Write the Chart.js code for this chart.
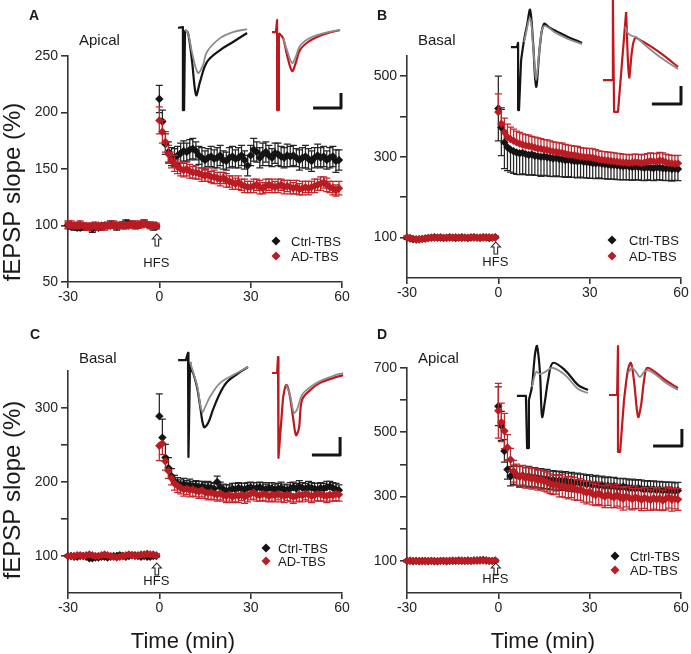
<!DOCTYPE html>
<html>
<head>
<meta charset="utf-8">
<script src="https://cdn.jsdelivr.net/npm/chart.js@4.4.1/dist/chart.umd.min.js"></script>
<style>
  html, body { margin: 0; padding: 0; background: #fff; }
  #fig { position: relative; width: 691px; height: 654px; overflow: hidden; }
  canvas { position: absolute; }
</style>
</head>
<body>
<div id="fig">
  <canvas id="chartA" width="360" height="320" style="left:0;top:0"></canvas>
  <canvas id="chartB" width="346" height="320" style="left:345px;top:0"></canvas>
  <canvas id="chartC" width="360" height="334" style="left:0;top:320px"></canvas>
  <canvas id="chartD" width="346" height="334" style="left:345px;top:320px"></canvas>
  <canvas id="insetA" width="175" height="100" style="left:170px;top:15px"></canvas>
  <canvas id="insetB" width="181" height="115" style="left:510px;top:0"></canvas>
  <canvas id="insetC" width="175" height="125" style="left:170px;top:340px"></canvas>
  <canvas id="insetD" width="181" height="120" style="left:510px;top:335px"></canvas>
</div>
<script>
// time axis (min): 30 baseline samples, then 60 after HFS
let times = [];
for (let t = -30; t < 60; t++) times.push(t);

// ---- panel A (apical) ----
let aCtrl = [100,99,99,98,98,99,99,98,97,98,98,99,100,100,101,100,99,100,101,102,102,101,100,100,101,102,101,100,99,99,
  212,192,172,165,161,160,162,164,166,165,167,168,166,162,160,158,160,161,159,160,
  162,158,157,160,161,159,160,162,158,153,162,167,165,160,163,165,162,160,164,163,
  161,160,162,161,162,160,158,160,161,159,157,160,162,160,161,158,160,161,157,158];
let aCtrlErr = [3,2,3,2,2,3,2,2,3,2,2,3,2,2,3,2,3,2,2,3,2,2,3,2,2,3,2,2,3,2,
  12,10,9,9,8,8,8,9,9,8,9,9,8,8,9,8,8,9,8,9,9,8,8,9,9,8,9,9,8,9,
  9,10,9,9,10,9,9,8,9,10,9,9,10,9,9,8,9,9,10,9,9,9,10,9,9,8,9,9,10,9];
let aAd = [101,101,100,100,101,100,99,99,100,100,99,100,99,100,100,101,100,100,100,100,100,101,101,100,101,102,101,100,100,100,
  193,183,174,163,158,155,152,150,149,150,148,147,147,146,145,144,145,143,143,142,
  141,142,140,139,138,137,138,136,135,134,134,135,136,134,133,135,136,135,134,135,
  136,134,135,134,133,134,132,133,134,133,134,135,136,137,138,136,134,133,131,133];
let aAdErr = [3,3,2,3,3,2,3,3,2,3,3,2,3,3,2,3,3,2,3,3,2,3,3,2,3,3,2,3,3,2,
  12,10,9,8,7,7,6,6,6,6,6,5,6,5,6,5,6,5,6,5,6,5,6,5,6,5,6,5,6,5,
  5,6,5,6,5,6,5,6,5,6,5,6,5,6,5,6,5,6,5,6,5,6,5,6,5,6,5,6,5,6];

// ---- panel B (basal) ----
let bCtrl = [100,98,96,95,96,97,98,99,100,101,100,100,99,100,101,100,99,100,101,100,99,100,101,100,100,101,100,99,100,101,
  420,373,336,324,318,314,311,309,310,307,305,306,303,302,300,301,299,298,296,297,
  295,294,292,293,291,290,289,290,288,287,286,285,284,285,283,282,281,280,280,279,
  278,277,278,276,275,276,275,274,273,274,273,272,274,273,272,271,272,270,271,270];
let bCtrlErr = [4,3,4,3,4,3,4,3,4,3,4,3,4,3,4,3,4,3,4,3,4,3,4,3,4,3,4,3,4,3,
  80,70,65,58,56,55,54,53,52,51,50,50,49,48,48,47,46,46,45,44,
  44,43,43,42,42,41,41,40,40,39,39,38,38,37,37,36,36,35,35,35,
  34,34,34,33,33,33,32,32,32,31,31,31,31,30,30,30,30,30,29,29];
let bCtrlErrUp = [4,3,4,3,4,3,4,3,4,3,4,3,4,3,4,3,4,3,4,3,4,3,4,3,4,3,4,3,4,3, 80,45,30];
let bAd = [101,99,97,96,96,97,98,99,100,100,100,101,100,99,100,100,101,100,99,100,100,101,100,100,99,100,101,101,100,100,
  411,382,361,349,344,340,336,333,330,328,327,325,323,321,320,318,317,315,313,312,
  311,310,308,306,305,304,303,301,300,299,299,298,296,294,293,292,291,290,289,288,
  287,286,286,285,286,287,286,285,286,288,290,289,288,291,290,287,285,284,283,284];
let bAdErr = [3,4,3,4,3,4,3,4,3,4,3,4,3,4,3,4,3,4,3,4,3,4,3,4,3,4,3,4,3,4,
  45,40,35,32,30,29,28,28,27,27,27,26,26,26,25,25,25,25,24,24,
  24,24,23,23,23,23,23,22,22,22,22,22,22,21,21,21,21,21,21,21,
  21,20,20,20,20,20,20,20,20,20,20,20,20,20,20,20,20,20,20,20];

// ---- panel C (basal) ----
let cCtrl = [100,100,99,99,100,100,99,97,97,98,98,99,99,98,99,100,100,101,100,99,100,101,101,100,99,100,99,99,100,100,
  289,260,233,219,208,201,198,196,197,195,196,194,195,193,194,192,193,192,191,200,
  193,190,188,189,191,190,192,191,190,192,193,191,192,193,191,190,192,191,190,191,
  192,190,189,191,193,191,194,192,191,193,192,191,190,192,191,193,194,192,190,189];
let cCtrlErr = [2,2,3,2,2,3,2,2,3,2,2,3,2,2,3,2,2,3,2,2,3,2,2,3,2,2,3,2,2,3,
  30,25,18,14,10,8,8,7,8,7,8,7,7,8,7,7,8,7,7,8,
  7,7,8,7,7,8,7,7,8,7,7,8,7,7,8,7,7,8,7,7,
  8,7,7,8,7,7,8,7,7,8,7,7,8,7,7,8,7,7,8,7];
let cAd = [100,100,100,101,101,100,101,102,101,100,100,101,102,101,100,99,98,99,100,101,102,101,100,101,102,102,103,102,102,101,
  249,252,228,215,205,198,195,192,190,191,189,190,188,187,189,186,185,186,184,183,
  185,182,181,183,180,182,181,183,180,182,184,186,183,182,184,183,181,183,182,184,
  182,181,183,182,180,181,183,182,184,183,181,182,184,183,182,181,183,182,184,183];
let cAdErr = [2,3,2,3,2,3,2,3,2,3,2,3,2,3,2,3,2,3,2,3,2,3,2,3,2,3,2,3,2,3,
  20,15,12,10,9,9,9,8,9,8,9,9,8,9,9,8,9,9,8,9,
  9,8,9,9,8,9,9,8,9,9,8,9,9,8,9,9,8,9,9,8,
  9,9,8,9,9,8,9,9,8,9,9,8,9,9,8,9,9,8,9,9];

// ---- panel D (apical) ----
let dCtrl = [100,100,99,100,99,100,100,99,100,99,99,100,100,99,100,100,100,101,100,100,101,100,101,101,102,103,101,100,100,101,
  581,520,442,384,363,368,365,362,366,360,363,358,360,356,357,353,355,350,352,348,
  350,347,349,345,346,343,345,341,342,338,340,336,338,334,336,332,334,331,333,330,
  329,331,328,326,327,325,327,324,322,324,321,323,320,322,319,321,318,320,317,319];
let dCtrlErr = [3,3,4,3,3,4,3,3,4,3,3,4,3,3,4,3,3,4,3,3,4,3,3,4,3,3,4,3,3,4,
  60,45,35,30,30,30,30,31,30,30,31,30,30,29,30,29,30,29,29,30,
  29,28,29,28,29,28,28,29,28,28,28,27,28,27,28,27,27,28,27,27,
  27,26,27,26,27,26,26,27,26,26,26,26,26,25,26,25,26,25,26,25];
let dAd = [100,101,100,100,100,99,99,100,100,100,99,100,100,100,100,101,100,100,101,100,100,100,101,101,101,101,101,100,100,100,
  567,531,504,453,415,379,368,362,365,358,360,355,357,351,353,348,345,340,336,338,
  332,334,329,327,330,325,320,322,316,312,315,308,305,310,303,300,306,301,298,304,
  297,293,300,296,292,298,294,290,296,292,289,295,291,294,288,293,297,290,294,291];
let dAdErr = [3,4,3,4,3,4,3,4,3,4,3,4,3,4,3,4,3,4,3,4,3,4,3,4,3,4,3,4,3,4,
  85,60,55,40,35,34,33,33,32,32,32,32,31,31,31,31,31,31,30,30,
  33,35,32,34,33,35,32,34,33,35,32,34,33,35,32,34,33,35,32,34,
  33,35,32,34,33,35,32,34,33,35,32,34,33,35,32,34,33,35,32,34];

// ---- inset traces: [ms, mV] ----
let aCtrlTrace = [[2.7,-0.43],[4.3,-0.40],[4.3,-3.17],[4.7,-3.17],[5.0,-0.50],[6.0,-0.60],[7.3,-1.50],[8.7,-2.67],[10.0,-2.23],[12.3,-1.57],[16.7,-1.17],[21.0,-0.90],[25.7,-0.60]];
let aCtrlBase = [[5.0,-0.50],[6.0,-0.60],[7.3,-1.23],[9.3,-1.93],[11.0,-1.67],[12.3,-1.23],[16.7,-0.77],[21.0,-0.57],[25.7,-0.47]];
let aAdTrace = [[34.0,-0.57],[35.3,-0.57],[35.7,-0.17],[35.7,-3.17],[36.0,-3.17],[36.3,-0.60],[37.7,-0.77],[39.0,-1.33],[40.7,-1.87],[42.0,-1.57],[43.3,-1.17],[46.0,-0.90],[49.0,-0.73],[52.7,-0.60],[56.7,-0.50]];
let aAdBase = [[37.7,-0.77],[39.0,-1.17],[40.7,-1.60],[42.0,-1.37],[43.3,-1.03],[46.0,-0.80],[49.0,-0.67],[52.7,-0.57],[56.7,-0.50]];
let aScaleBar = [[47.7,-3.10],[57.0,-3.10],[57.0,-2.60]];

let bCtrlTrace = [[0.3,-1.57],[2.3,-1.57],[2.7,-1.43],[2.7,-3.67],[3.0,-3.67],[3.7,-2.00],[4.7,-1.33],[5.7,-0.83],[6.7,-0.33],[7.7,-1.43],[8.7,-2.90],[10.0,-1.50],[11.3,-0.80],[13.3,-0.93],[15.3,-1.03],[19.3,-1.23],[24.0,-1.43]];
let bCtrlBase = [[4.7,-1.40],[6.7,-0.60],[7.7,-1.50],[8.7,-2.67],[10.0,-1.50],[11.3,-0.87],[15.3,-1.10],[19.3,-1.30],[24.0,-1.47]];
let bAdTrace = [[31.0,-2.67],[34.0,-2.67],[34.3,0.00],[34.7,-3.73],[36.0,-3.73],[38.7,-0.40],[39.7,-2.57],[40.7,-1.67],[41.7,-1.27],[43.3,-1.33],[46.7,-1.53],[51.0,-1.83],[56.0,-2.23]];
let bAdBase = [[38.3,-0.89],[39.3,-1.10],[40.7,-1.20],[42.0,-1.23],[45.0,-1.50],[50.0,-1.90],[56.0,-2.30]];
let bScaleBar = [[47.3,-3.47],[57.0,-3.47],[57.0,-2.87]];

let cCtrlTrace = [[2.7,-0.67],[5.3,-0.67],[6.0,-0.43],[6.0,-3.90],[6.3,-3.90],[6.7,-0.73],[7.0,-1.00],[7.7,-1.10],[9.0,-1.57],[10.0,-2.17],[11.3,-2.90],[12.7,-2.77],[14.3,-2.33],[16.7,-1.77],[19.0,-1.40],[23.3,-1.07],[26.0,-0.90]];
let cCtrlBase = [[6.7,-0.73],[7.7,-1.07],[9.0,-1.50],[10.7,-2.40],[12.0,-2.17],[13.3,-1.90],[16.7,-1.43],[21.0,-1.17],[26.0,-0.90]];
let cAdTrace = [[34.0,-1.10],[35.7,-1.10],[36.0,-0.57],[36.0,-3.93],[36.3,-3.93],[37.7,-1.90],[38.7,-1.50],[39.7,-1.73],[41.0,-2.57],[42.0,-3.17],[43.0,-2.93],[44.0,-2.00],[46.7,-1.67],[50.0,-1.43],[54.3,-1.27],[57.7,-1.17]];
let cAdBase = [[38.7,-1.50],[40.0,-1.83],[41.3,-2.43],[42.3,-2.33],[44.0,-1.83],[46.7,-1.57],[50.0,-1.37],[54.3,-1.20],[57.7,-1.10]];
let cScaleBar = [[47.3,-3.83],[56.7,-3.83],[56.7,-3.23]];

let dCtrlTrace = [[2.3,-2.03],[5.3,-2.03],[5.7,-3.77],[6.0,-3.77],[6.3,-2.17],[7.3,-1.73],[8.3,-0.67],[9.0,-0.37],[10.0,-1.27],[10.7,-2.73],[11.7,-2.17],[12.7,-1.50],[14.3,-0.93],[18.3,-1.17],[22.7,-1.67],[26.0,-1.83]];
let dCtrlBase = [[7.3,-1.73],[8.7,-1.23],[10.0,-1.30],[11.7,-1.23],[14.3,-1.10],[18.3,-1.33],[22.7,-1.80],[26.0,-1.93]];
let dAdTrace = [[33.0,-2.00],[35.7,-2.00],[36.0,-0.37],[36.0,-3.90],[36.7,-3.90],[38.0,-2.17],[39.3,-1.17],[40.3,-0.93],[41.3,-1.50],[42.7,-2.73],[43.7,-2.33],[44.7,-1.50],[45.7,-1.10],[48.3,-1.23],[51.7,-1.50],[56.0,-1.77]];
let dAdBase = [[39.3,-1.27],[40.7,-1.10],[42.0,-1.23],[43.3,-1.40],[44.7,-1.23],[46.0,-1.17],[48.7,-1.33],[52.0,-1.60],[56.0,-1.83]];
let dScaleBar = [[47.7,-3.70],[57.3,-3.70],[57.3,-3.13]];

let xTicks = [-30, 0, 30, 60];
let seriesNames = ["Ctrl-TBS", "AD-TBS"];

const BLACK = "#141414";
const RED = "#b91c22";
const GRAY = "#8c8c8c";
const FONT = '"Liberation Sans", Arial, Helvetica, sans-serif';
Chart.defaults.font.family = FONT;

// error bars drawn right before each dataset's own points
const errorBars = {
  id: "errorBars",
  beforeDatasetDraw(chart, args) {
    let ds = chart.data.datasets[args.index];
    if (!ds.errUp && !ds.errDown) return;
    let ctx = chart.ctx;
    let xs = chart.scales.x, ys = chart.scales.y;
    ctx.save();
    ctx.strokeStyle = ds.barColor;
    ctx.lineWidth = 1.25;
    ds.data.forEach((p, i) => {
      let px = xs.getPixelForValue(p.x);
      let py = ys.getPixelForValue(p.y);
      [[ds.errUp, 1], [ds.errDown, -1]].forEach(([arr, sign]) => {
        if (!arr || !arr[i]) return;
        let ey = ys.getPixelForValue(p.y + sign * arr[i]);
        ctx.beginPath();
        ctx.moveTo(px, py);
        ctx.lineTo(px, ey);
        ctx.moveTo(px - 3.5, ey);
        ctx.lineTo(px + 3.5, ey);
        ctx.stroke();
      });
    });
    ctx.restore();
  }
};

function diamond(ctx, x, y, r, color) {
  ctx.fillStyle = color;
  ctx.beginPath();
  ctx.moveTo(x, y - r);
  ctx.lineTo(x + r, y);
  ctx.lineTo(x, y + r);
  ctx.lineTo(x - r, y);
  ctx.closePath();
  ctx.fill();
}

// texts, legend and HFS arrow
const panelText = {
  id: "panelText",
  afterDraw(chart, args, opts) {
    let ctx = chart.ctx;
    ctx.save();
    ctx.textBaseline = "middle";
    (opts.items || []).forEach(it => {
      ctx.save();
      ctx.font = it.font;
      ctx.fillStyle = "#1a1a1a";
      ctx.textAlign = it.align || "left";
      ctx.translate(it.x, it.y);
      if (it.rotate) ctx.rotate(-Math.PI / 2);
      ctx.fillText(it.text, 0, 0);
      ctx.restore();
    });
    // legend
    let lg = opts.legend;
    ctx.font = "13px " + FONT;
    ctx.textAlign = "left";
    [BLACK, RED].forEach((c, i) => {
      diamond(ctx, lg.mx, lg.ys[i], 4.5, c);
      ctx.fillStyle = "#1a1a1a";
      ctx.fillText(seriesNames[i], lg.tx, lg.ys[i] + 1);
    });
    // HFS arrow at t = 0
    let h = opts.hfs;
    let ax = chart.scales.x.getPixelForValue(0) - 2.5;
    let t = h.top, b = h.top + 12;
    ctx.beginPath();
    ctx.moveTo(ax, t);
    ctx.lineTo(ax + 4.5, t + 5);
    ctx.lineTo(ax + 1.8, t + 5);
    ctx.lineTo(ax + 1.8, b);
    ctx.lineTo(ax - 1.8, b);
    ctx.lineTo(ax - 1.8, t + 5);
    ctx.lineTo(ax - 4.5, t + 5);
    ctx.closePath();
    ctx.fillStyle = "#fff";
    ctx.fill();
    ctx.strokeStyle = "#222";
    ctx.lineWidth = 1.1;
    ctx.stroke();
    ctx.font = "13px " + FONT;
    ctx.textAlign = "center";
    ctx.fillStyle = "#1a1a1a";
    ctx.fillText("HFS", ax - 0.5, h.textY);
    ctx.restore();
  }
};

function axisLine() {
  return { display: true, color: "#333", width: 1.6 };
}

function makePanel(id, p) {
  let ctrlPts = times.map((t, i) => ({ x: t, y: p.ctrl[i] }));
  let adPts = times.map((t, i) => ({ x: t, y: p.ad[i] }));
  new Chart(document.getElementById(id), {
    type: "scatter",
    data: {
      datasets: [
        {
          label: seriesNames[0], data: ctrlPts, order: 2,
          errUp: p.ctrlUp, errDown: p.ctrlDown, barColor: "#262626",
          pointStyle: "rectRot", pointRadius: 4.2, pointBorderWidth: 0,
          backgroundColor: BLACK, borderColor: BLACK, clip: false
        },
        {
          label: seriesNames[1], data: adPts, order: 1,
          errUp: p.adUp, errDown: p.adDown, barColor: "#c2262c",
          pointStyle: "rectRot", pointRadius: 4.2, pointBorderWidth: 0,
          backgroundColor: RED, borderColor: RED, clip: false
        }
      ]
    },
    options: {
      responsive: false,
      animation: false,
      events: [],
      layout: { autoPadding: false, padding: { left: 0, top: p.top, right: p.right, bottom: 0 } },
      plugins: {
        legend: { display: false },
        tooltip: { enabled: false },
        panelText: { items: p.texts, legend: p.legend, hfs: p.hfs }
      },
      scales: {
        x: {
          type: "linear", position: "bottom", min: -30, max: 60,
          border: axisLine(),
          grid: { display: true, drawOnChartArea: false, drawTicks: true, tickLength: 6, color: "#333", lineWidth: 1.6 },
          ticks: { font: { size: 14 }, color: "#222", padding: 1, maxRotation: 0, autoSkip: false },
          afterBuildTicks: s => { s.ticks = xTicks.map(v => ({ value: v })); },
          afterFit: s => { s.height = p.xHeight; }
        },
        y: {
          type: "linear", position: "left", min: p.yMin, max: p.yMax,
          border: axisLine(),
          grid: { display: true, drawOnChartArea: false, drawTicks: true, tickLength: 7, color: "#333", lineWidth: 1.6 },
          ticks: {
            font: { size: 14 }, color: "#222", padding: 3, autoSkip: false,
            callback: v => p.yLabels.includes(v) ? String(v) : ""
          },
          afterBuildTicks: s => { s.ticks = p.yTicks.map(v => ({ value: v })); },
          afterFit: s => { s.width = p.left; }
        }
      }
    },
    plugins: [errorBars, panelText]
  });
}

// each trace: straight artifact part up to `cut`, smooth waveform after it
function makeInset(id, w, h, traces) {
  let sets = [];
  traces.forEach(tr => {
    let pts = tr.pts.map(q => ({ x: q[0], y: q[1] }));
    let parts = tr.cut ? [[pts.slice(0, tr.cut + 1), 0], [pts.slice(tr.cut), 0.35]] : [[pts, tr.smooth ? 0.35 : 0]];
    parts.forEach(([d, ten]) => {
      sets.push({
        data: d, showLine: true, borderColor: tr.color, borderWidth: tr.width,
        pointRadius: 0, tension: ten, clip: false,
        borderJoinStyle: "round", borderCapStyle: "butt"
      });
    });
  });
  new Chart(document.getElementById(id), {
    type: "scatter",
    data: { datasets: sets },
    options: {
      responsive: false,
      animation: false,
      events: [],
      layout: { autoPadding: false, padding: 0 },
      plugins: { legend: { display: false }, tooltip: { enabled: false } },
      scales: {
        x: { display: false, min: 0, max: w / 3 },
        y: { display: false, min: -h / 30, max: 0 }
      }
    }
  });
}

const big = "22px " + FONT;
const bold = "bold 14px " + FONT;
const mid = "15px " + FONT;

makePanel("chartA", {
  ctrl: aCtrl, ad: aAd, ctrlUp: aCtrlErr, ctrlDown: aCtrlErr, adUp: aAdErr, adDown: aAdErr,
  yMin: 50, yMax: 250, yTicks: [50, 100, 150, 200, 250], yLabels: [50, 100, 150, 200, 250],
  left: 68, top: 56, right: 18, xHeight: 38,
  texts: [
    { text: "A", x: 29, y: 16, font: bold },
    { text: "Apical", x: 79, y: 41, font: mid },
    { text: "fEPSP slope (%)", x: 13, y: 192, font: "24px " + FONT, align: "center", rotate: true }
  ],
  legend: { mx: 276, tx: 291, ys: [241, 256] },
  hfs: { top: 234, textY: 263 }
});

makePanel("chartB", {
  ctrl: bCtrl, ad: bAd, ctrlUp: bCtrlErrUp, ctrlDown: bCtrlErr, adUp: bAdErr, adDown: null,
  yMin: 0, yMax: 550, yTicks: [100, 200, 300, 400, 500], yLabels: [100, 300, 500],
  left: 62, top: 56, right: 10, xHeight: 42,
  texts: [
    { text: "B", x: 32, y: 16, font: bold },
    { text: "Basal", x: 73, y: 41, font: mid }
  ],
  legend: { mx: 267, tx: 284, ys: [240, 256] },
  hfs: { top: 242, textY: 262 }
});

makePanel("chartC", {
  ctrl: cCtrl, ad: cAd, ctrlUp: cCtrlErr, ctrlDown: null, adUp: null, adDown: cAdErr,
  yMin: 50, yMax: 350, yTicks: [100, 150, 200, 250, 300], yLabels: [100, 200, 300],
  left: 68, top: 51, right: 18, xHeight: 61,
  texts: [
    { text: "C", x: 30, y: 15, font: bold },
    { text: "Basal", x: 79, y: 39, font: mid },
    { text: "fEPSP slope (%)", x: 13, y: 170, font: "24px " + FONT, align: "center", rotate: true },
    { text: "Time (min)", x: 183, y: 322, font: big, align: "center" }
  ],
  legend: { mx: 266, tx: 278, ys: [228, 241] },
  hfs: { top: 243, textY: 261 }
});

makePanel("chartD", {
  ctrl: dCtrl, ad: dAd, ctrlUp: dCtrlErr, ctrlDown: dCtrlErr, adUp: dAdErr, adDown: dAdErr,
  yMin: 0, yMax: 700, yTicks: [100, 200, 300, 400, 500, 600, 700], yLabels: [100, 300, 500, 700],
  left: 62, top: 48, right: 10, xHeight: 61,
  texts: [
    { text: "D", x: 32, y: 15, font: bold },
    { text: "Apical", x: 73, y: 39, font: mid },
    { text: "Time (min)", x: 198, y: 322, font: big, align: "center" }
  ],
  legend: { mx: 270, tx: 285, ys: [236, 250] },
  hfs: { top: 243, textY: 259 }
});

function traceSet(ctrlBase, ctrlTrace, ctrlCut, adBase, adTrace, adCut, bar) {
  return [
    { pts: ctrlBase, color: GRAY, width: 1.8, smooth: true },
    { pts: ctrlTrace, color: BLACK, width: 2.2, cut: ctrlCut },
    { pts: adBase, color: GRAY, width: 1.8, smooth: true },
    { pts: adTrace, color: "#c0181f", width: 2.2, cut: adCut },
    { pts: bar, color: BLACK, width: 3 }
  ];
}

makeInset("insetA", 175, 100, traceSet(aCtrlBase, aCtrlTrace, 4, aAdBase, aAdTrace, 5, aScaleBar));
makeInset("insetB", 181, 115, traceSet(bCtrlBase, bCtrlTrace, 5, bAdBase, bAdTrace, 5, bScaleBar));
makeInset("insetC", 175, 125, traceSet(cCtrlBase, cCtrlTrace, 5, cAdBase, cAdTrace, 5, cScaleBar));
makeInset("insetD", 181, 120, traceSet(dCtrlBase, dCtrlTrace, 4, dAdBase, dAdTrace, 5, dScaleBar));
</script>
</body>
</html>
